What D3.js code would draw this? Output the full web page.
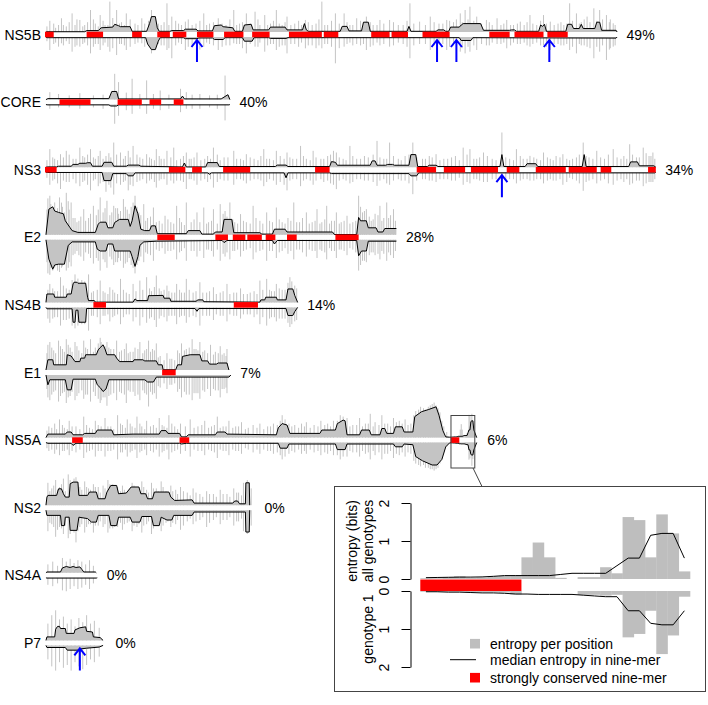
<!DOCTYPE html>
<html><head><meta charset="utf-8">
<script src="https://cdnjs.cloudflare.com/ajax/libs/d3/7.8.5/d3.min.js"></script>
<style>body{margin:0;background:#fff}svg{display:block}text{font-family:"Liberation Sans",Arial,Helvetica,sans-serif;fill:#000}</style>
</head><body><svg id="c" width="708" height="705"></svg>
<script>
// ---------------- DATA ----------------
const proteins = ["NS5B","CORE","NS3","E2","NS4B","E1","NS5A","NS2","NS4A","P7"];
const lengths  = [591,191,631,363,261,192,447,217,54,63];
const percents = ["49%","40%","34%","28%","14%","7%","6%","0%","0%","0%"];

// median entropy in nine-mer, breakpoints [position, bits]; "up" = all genotypes, "down" = genotype 1
const upNS5B = [[1,0],[2,0.02],[41,0.02],[43,0.1],[55,0.1],[58,0.3],[70,0.35],[72,0.55],[76,0.45],[78,0.38],[88,0.38],[90,0.05],[105,0.05],[108,0.6],[110,1.1],[114,1.1],[116,0.3],[118,0.05],[129,0.05],[131,0.1],[143,0.1],[145,0.2],[156,0.2],[158,0.08],[173,0.08],[175,0.45],[182,0.5],[184,0.38],[194,0.3],[196,0.05],[204,0.05],[206,0.5],[213,0.55],[215,0.15],[231,0.15],[233,0.35],[248,0.35],[250,0.15],[266,0.15],[268,0.6],[270,0.15],[272,0.05],[305,0.05],[307,0.4],[312,0.4],[314,0.08],[327,0.08],[329,0.7],[334,0.7],[336,0.05],[374,0.05],[376,0.4],[378,0.05],[404,0.05],[406,0.15],[412,0.15],[414,0.05],[417,0.05],[419,0.35],[428,0.35],[430,0.5],[432,0.6],[450,0.6],[453,0.12],[480,0.12],[482,0.15],[485,0.15],[487,0.05],[510,0.05],[512,0.5],[514,0.4],[516,0.55],[518,0.05],[538,0.05],[540,0.55],[544,0.55],[546,0.25],[552,0.25],[554,0.55],[556,0.25],[568,0.25],[570,0.7],[573,0.7],[575,0.12],[590,0.12],[591,0]];
const downNS5B = [[1,0],[2,0.05],[104,0.05],[106,0.5],[110,0.9],[114,0.9],[117,0.3],[119,0.05],[143,0.05],[145,0.12],[157,0.12],[159,0.07],[173,0.07],[175,0.18],[184,0.18],[186,0.05],[204,0.05],[206,0.3],[214,0.3],[216,0.05],[231,0.05],[233,0.1],[249,0.1],[251,0.05],[428,0.05],[430,0.25],[440,0.25],[442,0.05],[590,0.08],[591,0]];
const upCORE = [[1,0],[3,0.07],[66,0.07],[69,0.58],[74,0.58],[76,0.05],[140,0.05],[142,0.25],[144,0.05],[182,0.05],[189,0.35],[191,0]];
const downCORE = [[1,0],[3,0.02],[66,0.02],[68,0.1],[74,0.1],[76,0.02],[190,0.02],[191,0]];
const upNS3 = [[1,0],[3,0.02],[12,0.02],[14,0.07],[27,0.07],[29,0.2],[34,0.2],[36,0.28],[42,0.28],[44,0.32],[47,0.32],[49,0.07],[59,0.07],[61,0.35],[69,0.35],[71,0.07],[84,0.07],[86,0.15],[97,0.15],[99,0.07],[142,0.02],[144,0.3],[146,0.02],[166,0.02],[168,0.33],[178,0.33],[180,0.05],[238,0.05],[240,0.15],[249,0.15],[251,0.05],[294,0.05],[296,0.4],[300,0.35],[302,0.14],[336,0.14],[338,0.45],[341,0.45],[343,0.14],[352,0.14],[354,0.2],[359,0.2],[361,0.14],[376,0.14],[378,0.9],[383,0.9],[385,0.05],[395,0.05],[397,0.14],[404,0.14],[406,0.05],[470,0.05],[472,0.9],[474,0.05],[496,0.05],[498,0.25],[507,0.25],[509,0.05],[555,0.05],[557,0.9],[559,0.05],[603,0.05],[605,0.38],[612,0.38],[614,0.1],[629,0.1],[631,0]];
const downNS3 = [[1,0],[3,0.02],[59,0.02],[61,0.6],[68,0.6],[70,0.1],[84,0.1],[86,0.26],[91,0.26],[93,0.05],[168,0.05],[170,0.15],[172,0.05],[247,0.05],[249,0.4],[251,0.05],[294,0.05],[296,0.1],[376,0.1],[378,0.26],[384,0.26],[386,0.05],[630,0.05],[631,0]];
const upE2 = [[1,0],[4,1.83],[8,2.0],[10,1.7],[14,1.6],[19,1.5],[21,1.0],[26,0.5],[28,0.3],[34,0.17],[52,0.17],[55,0.76],[57,0.9],[63,0.9],[65,0.5],[70,0.5],[72,0.88],[77,1.1],[86,1.1],[88,0.6],[90,1.0],[93,2.07],[96,1.5],[99,0.4],[103,0.3],[108,0.3],[110,0.64],[114,0.64],[116,0.08],[146,0.08],[148,0.3],[160,0.3],[162,0.05],[174,0.05],[176,0.2],[183,0.2],[185,1.1],[193,1.1],[195,0.15],[222,0.15],[224,0.05],[235,0.05],[237,0.4],[248,0.4],[250,0.2],[297,0.2],[299,0.02],[322,0.02],[324,1.24],[326,1.0],[332,1.0],[334,0.5],[342,0.5],[344,0.2],[349,0.2],[351,0.45],[363,0.45]];
const downE2 = [[1,0],[4,1.38],[8,2.1],[10,1.8],[14,1.74],[20,1.74],[24,0.4],[28,0.15],[52,0.15],[54,0.67],[57,0.8],[63,0.8],[65,0.3],[70,0.3],[72,0.8],[88,0.8],[90,1.2],[93,1.9],[96,1.2],[98,0.4],[102,0.15],[115,0.1],[183,0.05],[185,0.2],[188,0.05],[235,0.05],[237,0.3],[240,0.05],[322,0.05],[324,1.14],[327,0.8],[332,0.8],[334,0.1],[363,0.1]];
const upNS4B = [[1,0],[2,0.6],[9,0.6],[10,0.37],[22,0.37],[23,0.6],[27,0.6],[29,1.32],[30,1.44],[33,1.44],[34,1.37],[42,1.37],[44,0.37],[45,0.13],[51,0.13],[52,0.02],[91,0.02],[93,0.25],[95,0.13],[106,0.13],[107,0.48],[122,0.5],[123,0.3],[129,0.3],[130,0.08],[156,0.08],[158,0.18],[163,0.18],[164,0.05],[222,0.02],[223,0.18],[227,0.18],[228,0.37],[239,0.37],[240,0.18],[249,0.18],[251,0.96],[256,0.96],[258,0.5],[261,0]];
const downNS4B = [[1,0],[2,0.1],[28,0.1],[29,1.06],[31,1.06],[32,0.2],[34,0.2],[35,1.06],[42,1.06],[43,0.08],[155,0.08],[157,0.28],[159,0.08],[249,0.08],[251,0.58],[256,0.58],[258,0.3],[261,0]];
const upE1 = [[1,0],[3,0.73],[8,0.73],[9,0.37],[22,0.37],[23,1.09],[27,1.0],[31,0.6],[36,0.6],[37,0.85],[41,0.85],[42,1.09],[53,1.09],[55,1.44],[57,1.6],[60,1.8],[62,1.5],[64,1.09],[72,1.09],[74,0.85],[77,0.6],[91,0.6],[92,0.73],[101,0.73],[103,0.65],[115,0.65],[117,0.37],[121,0.37],[122,0.02],[135,0.02],[137,0.37],[141,0.37],[142,0.97],[150,1.09],[160,1.09],[162,0.65],[168,0.65],[170,0.42],[177,0.42],[179,0.5],[188,0.5],[190,0]];
const downE1 = [[1,0],[3,0.7],[5,0.34],[21,0.34],[23,1.06],[27,1.06],[29,0.3],[52,0.3],[54,0.7],[57,0.9],[60,1.18],[63,1.0],[66,0.34],[103,0.34],[106,0.5],[112,0.5],[115,0.15],[190,0.15],[192,0]];
const upNS5A = [[1,0],[3,0.25],[21,0.25],[23,0.4],[27,0.4],[29,0.2],[39,0.2],[41,0.3],[52,0.3],[54,0.54],[69,0.54],[71,0.2],[91,0.25],[118,0.25],[120,0.5],[125,0.5],[127,0.3],[139,0.3],[141,0.05],[146,0.05],[148,0.2],[176,0.2],[178,0.4],[186,0.4],[188,0.25],[239,0.2],[241,0.7],[245,1.0],[250,0.9],[253,0.3],[284,0.3],[286,0.54],[300,0.54],[302,1.0],[308,1.25],[310,1.2],[312,0.2],[325,0.2],[327,0.54],[335,0.54],[337,0.2],[346,0.2],[348,0.65],[351,0.65],[353,0.3],[360,0.3],[362,0.77],[369,0.77],[371,0.4],[380,0.4],[382,1.5],[389,1.85],[396,2.0],[404,2.2],[407,1.6],[411,0.5],[414,0.05],[418,0.03]];
const downNS5A = [[1,0],[3,0.05],[27,0.05],[29,0.2],[32,0.05],[139,0.05],[141,0.1],[146,0.05],[241,0.05],[243,0.4],[250,0.4],[252,0.1],[300,0.1],[302,0.5],[310,0.5],[312,0.1],[360,0.1],[362,0.3],[369,0.3],[371,0.1],[380,0.15],[383,1.0],[390,1.3],[400,1.6],[405,1.6],[410,1.2],[414,0.3],[418,0.02]];
const upNS2 = [[1,0],[2,0.58],[3,0.7],[12,0.7],[14,1.17],[17,1.17],[19,0.82],[21,0.58],[25,0.58],[26,1.53],[29,1.65],[34,1.65],[35,0.7],[44,0.7],[46,0.94],[53,0.94],[55,0.46],[62,0.46],[64,0.94],[68,1.41],[74,1.41],[76,0.82],[84,0.87],[89,1.3],[97,1.3],[99,0.82],[104,0.82],[106,0.46],[111,0.46],[113,0.94],[128,0.94],[130,0.58],[134,0.34],[152,0.38],[154,0.15],[194,0.15],[196,0.3],[199,0.3],[201,0.1],[207,0.1],[207.5,1.6],[211,1.6],[211.5,0]];
const downNS2 = [[1,0],[2,0.37],[16,0.37],[17,1.1],[20,1.1],[21,0.5],[25,0.5],[26,1.44],[33,1.44],[35,0.5],[44,0.6],[48,0.85],[53,0.85],[55,0.37],[66,0.37],[68,1.1],[74,1.1],[76,0.5],[88,0.5],[90,0.85],[98,0.85],[100,0.45],[110,0.45],[112,1.1],[118,1.1],[120,0.5],[126,0.7],[131,0.7],[133,0.37],[152,0.37],[154,0.13],[207,0.13],[207.5,1.56],[211,1.56],[211.5,0]];
const upNS4A = [[1,0],[2,0.06],[16,0.06],[18,0.35],[22,0.45],[26,0.38],[29,0.45],[32,0.38],[36,0.42],[38,0.25],[40,0.06],[52,0.06],[53,0]];
const downNS4A = [[1,0],[2,0.02],[53,0.02],[54,0]];
const upP7 = [[1,0],[2,0.25],[10,0.25],[11,0.8],[13,1.0],[15,1.0],[16,0.85],[21,0.85],[22,0.5],[30,0.5],[31,0.75],[36,0.9],[42,0.97],[43,0.65],[49,0.6],[50,0.25],[57,0.2],[60,0]];
const downP7 = [[1,0],[2,0.15],[21,0.15],[23,0.34],[35,0.34],[37,0.25],[43,0.2],[56,0.12],[60,0]];

// strongly conserved nine-mers (runs of positions)
const redNS5B = [[1,9],[44,60],[91,100],[117,129],[133,146],[158,174],[186,205],[215,232],[253,286],[289,303],[338,356],[359,375],[391,418],[460,480],[486,515],[520,540]];
const redCORE = [[16,47],[76,100],[109,120],[134,143]];
const redNS3 = [[1,12],[129,145],[153,162],[185,212],[280,294],[385,404],[413,434],[441,468],[478,490],[508,538],[542,570],[575,585],[624,631]];
const redE2 = [[117,134],[177,189],[195,207],[210,224],[229,238],[251,260],[301,324]];
const redNS4B = [[51,63],[196,220]];
const redE1 = [[122,135]];
const redNS5A = [[29,39],[140,149],[420,428]];

// entropy per position [position, all genotypes bits, genotype 1 bits] - taller bars
const spikesNS5B = [[5,0.8,0.93],[14,0.5,0.69],[17,0.98,0.45],[22,0.4,0.3],[28,1.33,1.05],[36,0.86,0.69],[41,0.5,0.4],[47,1.57,1.17],[52,0.6,0.5],[57,1.21,0.93],[62,0.5,0.4],[67,2.17,1.05],[74,1.57,1.29],[79,0.7,0.5],[84,1.33,0.93],[93,0.6,0.5],[100,0.98,0.45],[110,1.57,1.17],[120,0.5,0.6],[126,2.05,0.93],[131,1.1,1.52],[138,0.6,0.4],[145,0.74,0.93],[152,0.5,0.6],[164,1.33,0.69],[170,0.6,0.5],[179,0.98,0.93],[187,0.5,0.6],[195,1.57,0.45],[201,0.6,0.5],[208,1.33,1.17],[217,1.45,0.69],[222,0.5,0.4],[227,1.21,1.05],[233,0.6,0.5],[239,1.57,0.93],[245,0.5,0.6],[250,1.1,1.17],[258,0.6,0.5],[269,0.86,0.81],[276,0.5,0.6],[286,2.17,0.81],[292,0.5,0.5],[300,1.33,1.88],[309,1.33,0.69],[315,0.5,0.4],[322,0.98,0.5],[332,1.1,0.93],[339,0.5,0.6],[346,0.86,0.6],[356,0.86,0.69],[365,0.5,0.4],[377,2.05,1.52],[387,0.74,0.5],[398,1.1,0.93],[407,0.6,0.5],[415,0.86,0.93],[422,0.7,0.6],[429,1.33,1.05],[434,1.57,1.17],[439,1.81,1.05],[446,1.1,0.93],[456,0.86,0.6],[462,0.5,0.4],[467,0.98,0.5],[477,0.86,0.81],[484,0.5,0.4],[491,0.74,0.5],[501,1.21,0.69],[508,0.5,0.4],[515,1.21,0.6],[522,0.74,0.93],[530,0.6,0.5],[536,0.5,0.6],[542,2.05,0.93],[549,1.33,1.17],[554,0.7,0.6],[560,1.1,0.7],[567,1.69,1.52],[573,1.57,1.05],[580,1.21,1.64],[584,0.9,0.8],[587,0.62,0.69]];
const spikesCORE = [[5,0.53,0.3],[14,0.4,0.2],[25,0.3,0.2],[36,0.46,0.3],[50,0.3,0.2],[60,0.35,0.3],[72,1.84,1.37],[76,1.25,0.8],[84,0.5,0.4],[90,1.49,0.66],[98,0.4,0.3],[105,1.37,0.66],[112,0.4,0.3],[119,0.65,0.4],[128,0.35,0.3],[140,0.77,0.54],[146,0.53,0.3],[152,0.35,0.3],[160,0.4,0.3],[170,0.3,0.2],[178,0.35,0.3],[186,1.72,1.13]];
const spikesNS3 = [[5,1.29,0.9],[10,0.6,0.5],[16,0.93,1.2],[22,1.17,0.7],[29,0.6,0.5],[36,1.4,1.0],[41,0.7,0.6],[47,1.29,1.3],[52,0.6,0.5],[57,1.17,0.8],[63,0.8,1.4],[71,1.76,1.6],[78,1.05,0.9],[86,1.17,1.3],[91,1.52,1.0],[98,0.7,0.6],[105,0.93,0.8],[110,0.6,0.5],[115,1.29,1.1],[120,0.6,0.5],[126,1.17,0.9],[133,1.4,0.8],[140,0.6,0.6],[146,1.05,1.2],[151,0.6,0.5],[157,1.05,0.9],[165,0.6,0.5],[174,1.4,1.1],[185,0.7,0.6],[195,1.17,0.9],[202,0.6,0.5],[208,0.93,0.8],[216,0.6,0.5],[226,1.29,1.0],[232,0.6,0.5],[239,1.17,0.9],[250,1.05,1.3],[256,0.6,0.5],[264,1.52,1.0],[270,0.6,0.5],[277,1.17,0.9],[285,0.6,0.5],[292,0.8,0.6],[298,1.17,0.9],[301,1.05,1.21],[308,0.6,0.5],[315,1.52,0.8],[322,0.6,0.5],[330,0.8,0.6],[343,1.88,0.98],[350,0.6,0.5],[356,1.76,0.9],[365,0.6,0.5],[372,0.8,0.6],[380,1.76,1.57],[390,0.6,0.5],[397,0.8,0.6],[404,0.93,0.7],[412,0.6,0.5],[420,0.7,0.6],[432,1.4,0.9],[439,1.29,0.8],[446,0.6,0.5],[453,1.05,0.7],[462,0.6,0.5],[472,2.48,1.69],[480,0.6,0.5],[487,1.29,0.8],[494,0.6,0.5],[501,0.81,0.6],[508,0.6,0.5],[515,1.05,0.8],[522,0.6,0.5],[528,0.8,0.6],[535,0.93,0.9],[545,0.6,0.5],[556,1.76,1.33],[562,0.7,0.6],[570,1.17,0.8],[578,0.6,0.5],[587,1.29,0.9],[595,0.6,0.5],[604,1.64,0.9],[611,0.7,0.6],[618,1.4,1.0],[624,0.8,0.7],[628,1.05,0.7]];
const spikesE2 = [[3,2.6,2.4],[5,2.79,2.5],[8,2.0,2.2],[10,2.31,2.0],[13,1.9,2.2],[15,2.67,2.3],[18,2.0,1.9],[22,3.0,2.2],[25,1.8,1.6],[27,2.31,1.9],[31,1.2,1.0],[35,1.0,1.1],[40,1.83,1.5],[45,1.2,1.0],[50,2.07,1.7],[53,1.4,1.3],[57,2.67,2.2],[60,1.6,1.4],[64,2.43,2.0],[67,1.4,1.2],[71,2.07,1.8],[75,1.9,1.6],[78,1.7,1.5],[81,2.55,2.0],[85,1.8,1.6],[89,2.0,1.8],[93,2.79,2.4],[97,1.6,1.5],[102,2.19,1.6],[106,1.2,1.0],[112,1.95,1.5],[118,1.0,0.8],[124,1.36,1.0],[130,0.9,0.8],[136,2.07,1.4],[141,0.9,0.8],[146,2.31,1.5],[151,0.9,0.8],[157,1.6,1.2],[160,0.9,0.8],[164,1.95,1.3],[169,0.9,0.7],[174,1.83,1.2],[181,2.19,1.5],[186,1.7,1.2],[191,2.31,1.4],[196,0.9,0.8],[202,1.48,1.2],[208,0.9,0.7],[215,2.07,1.4],[222,1.0,0.8],[229,1.6,1.5],[235,0.9,0.8],[239,1.95,1.3],[245,0.9,0.8],[251,1.2,1.0],[257,2.31,1.4],[263,0.9,0.7],[270,1.6,1.2],[276,0.9,0.8],[281,1.83,1.3],[286,0.9,0.8],[291,2.07,1.4],[296,1.0,0.8],[301,1.6,1.3],[306,0.9,0.7],[312,1.36,1.1],[318,0.9,0.7],[324,2.79,2.2],[328,1.6,1.5],[332,1.83,1.6],[337,1.0,0.9],[341,1.5,1.1],[346,2.07,1.4],[350,1.2,1.0],[353,2.31,1.5],[357,1.4,1.1],[360,1.83,1.3]];
const spikesNS4B = [[5,1.32,1.1],[10,0.8,0.7],[16,1.8,1.3],[22,1.0,0.9],[31,2.0,1.5],[38,1.6,1.2],[45,2.0,1.66],[50,0.8,0.6],[57,1.56,1.2],[62,0.7,0.6],[67,1.08,1.0],[72,0.7,0.6],[78,1.68,1.2],[84,0.7,0.5],[91,1.32,1.0],[98,1.56,1.3],[105,1.8,1.1],[110,0.8,0.7],[115,1.92,1.4],[120,0.8,0.6],[126,1.2,1.0],[131,0.7,0.6],[136,1.32,1.2],[141,0.7,0.6],[146,1.68,1.1],[153,0.7,0.6],[160,1.44,1.3],[167,0.7,0.6],[174,1.08,0.9],[181,0.7,0.6],[188,1.32,1.0],[195,0.7,0.6],[202,1.0,0.8],[209,0.6,0.5],[216,0.8,0.7],[222,1.56,1.2],[229,1.68,1.3],[234,0.8,0.7],[239,1.32,1.0],[245,0.9,0.8],[253,1.8,1.4],[258,1.2,1.0]];
const spikesE1 = [[3,1.8,1.6],[5,2.0,1.8],[9,1.4,1.2],[14,2.1,1.9],[18,1.5,1.3],[22,2.2,2.0],[26,1.6,1.5],[31,2.0,1.8],[35,1.4,1.3],[40,2.1,1.7],[44,1.5,1.4],[47,2.2,1.9],[52,1.6,1.5],[57,2.3,2.0],[60,1.8,1.6],[64,2.0,2.2],[68,1.5,1.4],[74,2.1,1.8],[79,1.4,1.3],[84,1.9,2.0],[88,1.3,1.2],[93,1.6,1.5],[98,2.0,1.8],[103,1.4,1.3],[107,2.1,2.25],[111,1.5,1.4],[115,1.9,1.7],[119,1.0,0.9],[126,1.2,1.0],[131,0.8,0.7],[137,1.4,1.2],[141,1.9,1.6],[146,1.5,1.4],[152,2.2,1.8],[156,1.5,1.3],[160,2.0,1.7],[165,1.4,1.2],[171,1.8,1.5],[176,1.3,1.1],[181,1.7,1.6],[185,1.2,1.0],[188,1.5,1.3]];
const spikesNS5A = [[4,0.8,0.6],[10,1.0,0.8],[15,1.3,0.9],[20,0.7,0.6],[25,1.2,0.9],[32,0.8,0.7],[40,1.5,1.1],[46,0.7,0.6],[52,1.2,1.0],[58,0.8,0.6],[62,1.4,1.0],[68,0.8,0.6],[75,1.6,1.2],[80,0.9,0.7],[85,1.3,1.0],[90,0.8,0.6],[95,1.5,1.1],[100,0.8,0.6],[105,1.2,0.9],[112,0.9,0.7],[118,1.4,1.0],[123,0.8,0.6],[128,1.6,1.2],[134,0.8,0.6],[140,1.0,0.8],[150,1.3,1.0],[158,0.8,0.6],[165,1.2,0.9],[172,0.8,0.6],[178,1.5,1.1],[184,0.8,0.6],[190,1.2,0.9],[197,0.8,0.6],[203,1.1,0.8],[210,0.7,0.5],[215,0.9,0.7],[222,1.0,0.8],[230,0.8,0.6],[236,1.0,0.8],[245,1.6,1.2],[252,1.0,0.8],[258,0.9,0.7],[265,1.0,0.8],[270,1.1,0.8],[278,0.9,0.7],[285,1.2,0.9],[292,1.0,0.8],[298,1.2,0.9],[305,1.6,1.2],[312,1.4,1.0],[318,0.9,0.7],[325,1.4,1.0],[331,1.0,0.8],[336,1.7,1.2],[341,1.1,0.9],[348,1.6,1.2],[354,1.0,0.8],[360,1.4,1.1],[366,1.2,0.9],[372,1.3,1.0],[378,1.0,0.8],[383,1.9,1.5],[388,2.2,1.7],[393,2.0,1.8],[398,2.3,1.9],[402,2.5,2.0],[406,2.1,1.8],[410,1.2,1.0],[415,0.4,0.3]];
const spikesNS2 = [[3,1.6,1.5],[7,1.2,1.0],[11,1.8,1.9],[15,1.3,1.2],[19,1.9,1.7],[24,2.2,2.0],[28,1.6,1.4],[32,2.0,2.3],[36,1.3,1.2],[41,1.7,1.6],[45,1.2,1.0],[50,1.5,1.6],[55,1.3,1.1],[60,1.4,1.2],[65,1.8,1.6],[70,1.5,1.3],[75,1.3,1.2],[80,1.4,1.4],[85,1.0,0.9],[90,1.6,1.5],[95,1.3,1.2],[100,1.7,1.6],[105,1.1,1.0],[110,1.6,1.7],[115,1.2,1.1],[120,1.7,1.5],[125,1.0,0.9],[130,1.4,1.2],[135,1.1,1.0],[140,1.3,1.4],[147,0.9,0.8],[153,1.2,1.0],[160,0.8,0.7],[167,1.0,1.2],[174,0.8,0.7],[181,1.1,1.0],[188,0.8,0.7],[195,1.2,1.1],[200,0.9,0.8],[205,1.6,1.5],[213,1.2,1.1]];
const spikesNS4A = [[3,0.6,0.5],[8,0.8,0.6],[13,0.5,0.4],[18,1.06,0.9],[22,0.8,0.96],[26,1.0,0.8],[30,0.7,0.6],[34,0.9,0.8],[38,0.8,0.7],[42,0.6,0.5],[46,0.9,0.8],[50,0.5,0.4]];
const spikesP7 = [[3,1.2,1.0],[7,1.8,1.5],[11,2.15,1.8],[15,1.5,1.2],[19,1.7,1.6],[23,1.2,1.4],[27,1.5,1.8],[31,1.0,1.2],[35,1.6,1.5],[39,1.3,1.7],[43,1.8,1.4],[47,1.2,1.0],[51,1.4,1.2],[56,0.9,0.8]];

// entropy per position - shorter bars in between
const minorNS5B = [[2,0.4,0.3],[9,0.6,0.5],[11,0.3,0.4],[19,0.5,0.6],[25,0.7,0.5],[31,0.5,0.7],[33,0.9,0.6],[39,0.4,0.5],[44,0.7,0.6],[50,0.9,0.7],[55,0.4,0.5],[60,0.8,0.6],[65,0.5,0.7],[70,1.0,0.8],[77,0.6,0.5],[82,0.5,0.6],[88,0.9,0.7],[96,0.5,0.4],[103,0.6,0.7],[107,0.8,0.6],[113,0.9,0.8],[117,0.6,0.5],[123,0.7,0.6],[128,0.5,0.8],[135,0.8,0.6],[141,0.5,0.5],[148,0.9,0.7],[156,0.6,0.5],[160,0.8,0.9],[167,0.5,0.4],[174,0.7,0.6],[183,0.6,0.7],[191,0.9,0.6],[198,0.5,0.5],[204,0.7,0.8],[212,0.6,0.5],[220,0.9,0.7],[230,0.5,0.6],[236,0.8,0.5],[242,0.6,0.7],[248,0.7,0.6],[254,0.5,0.5],[262,0.8,0.7],[265,0.5,0.4],[272,0.7,0.6],[280,0.6,0.8],[283,0.9,0.6],[289,0.5,0.5],[296,0.8,0.7],[304,0.6,0.8],[312,0.7,0.5],[318,0.5,0.6],[326,0.8,0.6],[329,0.6,0.5],[336,0.7,0.7],[343,0.5,0.4],[350,0.6,0.5],[360,0.7,0.6],[370,0.5,0.5],[374,0.8,0.7],[381,0.6,0.6],[393,0.5,0.5],[402,0.7,0.6],[411,0.6,0.5],[418,0.8,0.7],[425,0.9,0.6],[431,0.7,0.8],[437,0.9,0.7],[443,0.8,0.6],[451,0.6,0.5],[459,0.7,0.6],[471,0.5,0.5],[474,0.6,0.4],[481,0.5,0.6],[488,0.6,0.5],[495,0.5,0.4],[498,0.7,0.6],[504,0.6,0.5],[512,0.8,0.6],[518,0.6,0.7],[526,0.5,0.5],[533,0.7,0.6],[539,0.6,0.5],[545,0.8,0.7],[552,0.6,0.5],[557,0.9,0.6],[563,0.7,0.8],[570,0.8,0.7],[576,0.9,0.6],[583,0.7,0.9],[589,0.5,0.6]];
const minorNS3 = [[2,0.5,0.4],[8,0.7,0.6],[13,0.5,0.8],[19,0.7,0.6],[25,0.9,0.7],[32,0.6,0.8],[39,0.8,0.7],[44,0.9,0.9],[50,0.7,0.6],[55,0.8,1.0],[60,0.6,0.7],[66,1.0,0.9],[68,0.7,1.1],[74,0.9,0.8],[81,0.6,0.7],[83,0.8,0.6],[88,0.7,0.9],[95,0.9,0.7],[101,0.6,0.5],[108,0.7,0.6],[113,0.5,0.7],[118,0.8,0.6],[123,0.6,0.5],[130,0.7,0.6],[136,0.5,0.6],[143,0.8,0.7],[149,0.6,0.5],[154,0.7,0.6],[161,0.5,0.6],[168,0.8,0.7],[171,0.6,0.5],[178,0.9,0.7],[181,0.5,0.5],[189,0.7,0.6],[198,0.6,0.5],[205,0.5,0.6],[212,0.7,0.6],[220,0.5,0.5],[223,0.8,0.6],[229,0.6,0.7],[236,0.5,0.6],[243,0.8,0.7],[247,0.6,0.9],[253,0.7,0.6],[260,0.6,0.5],[267,0.8,0.6],[274,0.5,0.6],[280,0.7,0.6],[288,0.6,0.7],[295,0.9,0.8],[304,0.7,0.6],[311,0.5,0.6],[318,0.8,0.7],[326,0.6,0.5],[334,0.7,0.6],[339,0.9,0.7],[346,0.7,0.6],[353,0.6,0.8],[360,0.8,0.6],[368,0.5,0.6],[376,0.9,0.8],[384,0.7,0.6],[393,0.6,0.5],[400,0.7,0.6],[408,0.5,0.5],[416,0.6,0.5],[424,0.8,0.6],[428,0.5,0.4],[436,0.9,0.7],[443,0.6,0.5],[449,0.7,0.6],[457,0.8,0.7],[466,0.5,0.5],[476,0.7,0.6],[484,0.5,0.5],[491,0.8,0.6],[498,0.6,0.5],[505,0.7,0.6],[512,0.5,0.5],[519,0.7,0.6],[525,0.5,0.6],[532,0.7,0.5],[539,0.6,0.7],[542,0.5,0.4],[549,0.7,0.6],[552,0.9,0.8],[559,0.8,0.7],[566,0.6,0.5],[574,0.7,0.6],[582,0.9,0.8],[591,0.7,0.6],[598,0.8,0.7],[601,0.6,0.5],[607,0.9,0.8],[614,0.7,0.6],[621,1.0,0.8],[626,0.8,0.7],[630,0.6,0.5]];
const minorE2 = [[2,1.8,1.6],[6,2.2,2.0],[11,1.7,1.8],[17,2.3,2.0],[20,1.6,1.5],[24,2.4,2.0],[29,1.2,1.1],[33,0.9,0.8],[37,1.3,1.2],[42,1.0,0.9],[47,1.5,1.3],[55,1.8,1.5],[62,1.9,1.6],[69,1.6,1.4],[73,1.9,1.6],[76,1.5,1.3],[83,2.0,1.7],[87,1.5,1.3],[91,2.3,2.0],[95,2.0,1.8],[99,1.4,1.2],[104,1.0,0.9],[109,1.3,1.1],[115,0.9,0.7],[121,0.8,0.6],[127,1.1,0.8],[133,0.8,0.7],[139,1.2,0.9],[144,0.7,0.6],[154,1.1,0.8],[167,0.8,0.7],[172,1.0,0.8],[178,0.8,0.7],[184,1.5,1.0],[188,1.3,0.9],[194,1.1,0.8],[199,0.8,0.7],[205,1.0,0.8],[212,0.8,0.6],[218,1.2,0.9],[225,0.8,0.7],[232,1.0,0.8],[242,1.1,0.9],[248,0.8,0.6],[254,1.0,0.8],[260,0.9,0.7],[266,1.2,0.9],[273,0.8,0.7],[279,1.0,0.8],[284,0.8,0.7],[289,1.1,0.9],[294,0.8,0.6],[299,1.0,0.8],[304,0.8,0.7],[309,1.0,0.8],[315,0.8,0.6],[321,1.0,0.9],[326,2.0,1.8],[330,1.7,1.5],[335,1.3,1.1],[339,1.1,0.9],[344,1.4,1.0],[348,1.0,0.8],[355,1.2,0.9],[362,1.0,0.8]];
const minorNS4B = [[3,0.9,0.8],[8,1.0,0.8],[13,0.8,0.7],[19,1.2,0.9],[25,0.9,0.8],[28,1.6,1.3],[34,1.7,1.3],[41,1.5,1.2],[48,0.7,0.6],[54,0.9,0.7],[60,0.8,0.6],[65,0.6,0.5],[70,0.9,0.7],[75,0.6,0.5],[81,0.9,0.7],[87,0.6,0.5],[94,0.8,0.7],[101,0.9,0.7],[108,1.0,0.8],[113,1.1,0.9],[118,1.0,0.8],[123,0.9,0.7],[128,0.8,0.6],[134,0.7,0.6],[139,0.9,0.7],[144,0.7,0.6],[149,0.9,0.7],[156,0.8,0.7],[163,0.7,0.6],[170,0.8,0.6],[177,0.6,0.5],[184,0.8,0.6],[191,0.6,0.5],[198,0.7,0.6],[205,0.6,0.5],[212,0.7,0.5],[219,0.6,0.5],[225,0.9,0.7],[232,0.9,0.8],[237,0.8,0.7],[242,1.0,0.8],[248,0.9,0.8],[251,1.4,1.1],[255,1.5,1.2],[260,1.0,0.9]];
const minorE1 = [[2,1.2,1.0],[7,1.6,1.4],[11,1.2,1.1],[16,1.7,1.5],[20,1.3,1.2],[24,1.8,1.6],[28,1.3,1.2],[33,1.7,1.5],[38,1.2,1.1],[42,1.6,1.4],[50,1.3,1.2],[55,1.9,1.7],[58,2.0,1.8],[62,1.7,1.6],[66,1.6,1.5],[71,1.5,1.3],[77,1.3,1.2],[82,1.5,1.4],[86,1.2,1.1],[91,1.3,1.2],[96,1.5,1.4],[101,1.2,1.1],[105,1.5,1.4],[109,1.3,1.2],[113,1.4,1.3],[117,0.9,0.8],[123,0.7,0.6],[129,0.8,0.7],[134,0.7,0.6],[139,1.2,1.0],[144,1.4,1.2],[149,1.6,1.4],[154,1.5,1.3],[158,1.4,1.3],[163,1.3,1.1],[168,1.2,1.0],[174,1.1,1.0],[179,1.2,1.1],[183,1.1,1.0],[187,1.0,0.9]];
const minorNS5A = [[2,0.5,0.4],[7,0.7,0.5],[12,0.6,0.5],[18,0.9,0.6],[23,0.6,0.5],[28,0.8,0.6],[36,0.6,0.5],[43,0.9,0.7],[49,0.6,0.5],[55,0.9,0.6],[65,0.8,0.6],[71,0.6,0.5],[78,1.0,0.7],[83,0.7,0.5],[88,1.0,0.7],[93,0.7,0.5],[98,1.0,0.7],[103,0.6,0.5],[109,0.8,0.6],[115,0.7,0.5],[121,0.9,0.7],[126,0.7,0.5],[131,1.0,0.7],[137,0.6,0.5],[145,0.8,0.6],[154,0.7,0.5],[162,0.9,0.6],[169,0.7,0.5],[175,0.9,0.7],[181,0.7,0.5],[187,0.8,0.6],[194,0.7,0.5],[200,0.8,0.6],[207,0.6,0.4],[219,0.7,0.5],[226,0.6,0.5],[233,0.8,0.6],[240,0.9,0.7],[243,1.2,0.9],[248,1.3,1.0],[255,0.8,0.6],[262,0.7,0.5],[268,0.8,0.6],[274,0.7,0.5],[282,0.8,0.6],[289,0.9,0.7],[295,0.8,0.6],[302,1.2,0.9],[308,1.5,1.0],[315,0.8,0.6],[322,0.9,0.7],[328,0.8,0.6],[334,1.0,0.7],[339,0.8,0.6],[345,0.9,0.7],[351,1.0,0.8],[357,0.8,0.6],[363,1.1,0.8],[369,1.0,0.7],[375,0.9,0.7],[381,1.6,1.3],[386,2.0,1.6],[391,2.1,1.6],[396,2.2,1.8],[400,2.4,1.9],[404,2.3,1.9],[408,1.8,1.5],[412,0.8,0.6]];
const minorNS2 = [[5,1.0,0.9],[9,1.4,1.2],[13,1.1,1.4],[17,1.5,1.3],[21,1.0,1.1],[26,1.8,1.7],[30,1.9,1.6],[34,1.4,1.5],[38,1.1,1.0],[43,1.3,1.2],[47,1.1,1.0],[52,1.3,1.1],[57,0.9,0.8],[62,1.2,1.0],[67,1.5,1.3],[72,1.3,1.2],[78,1.0,0.9],[82,1.1,1.0],[87,1.0,0.8],[92,1.4,1.1],[97,1.2,1.0],[102,1.3,1.1],[107,0.9,0.8],[112,1.2,1.3],[117,1.0,0.9],[122,1.3,1.1],[127,0.9,0.8],[132,1.0,0.9],[137,0.8,0.7],[143,1.0,1.1],[150,0.7,0.6],[156,0.9,0.8],[163,0.6,0.5],[170,0.8,0.9],[177,0.6,0.5],[184,0.8,0.7],[191,0.6,0.5],[198,0.9,0.8],[203,0.7,0.6],[209,1.8,1.7]];

// zoomed region: NS5A positions 420..443
const insetPositions = [420,421,422,423,424,425,426,427,428,429,430,431,432,433,434,435,436,437,438,439,440,441,442,443];
const insetEntropyAll = [0.02,0.02,0.05,0.07,0.03,0.04,0.07,0.08,0.1,0.57,0.96,0.57,0.03,0,0.05,0.05,0.31,0.15,1.63,1.55,0.57,1.7,1.2,0.2];
const insetEntropyG1  = [0.02,0.02,0.02,0.02,0.03,0.03,0.03,0.04,0.09,0,0,0,0,0,0.1,0.1,0.12,0.1,1.22,1.13,0.52,1.66,1.17,0.15];
const insetMedianAll  = [0.035,0.04,0.045,0.05,0.05,0.055,0.07,0.09,0.09,0.09,0.09,0.09,0.12,0.15,0.15,0.15,0.15,0.35,0.55,0.55,1.15,1.2,1.2,0.55];
const insetMedianG1   = [0.02,0.02,0.03,0.03,0.04,0.05,0.05,0.06,0.08,0.08,0.09,0.09,0.09,0.09,0.11,0.13,0.15,0.15,0.52,0.52,0.85,0.89,0.89,0.52];
const insetConserved = [420,428];
const insetTicks = [0,1,2];

// blue arrows [protein, position]
const arrows = [["NS5B",157],["NS5B",405],["NS5B",425],["NS5B",521],["NS3",472],["P7",36]];

// legend
const legendLabels = ["entropy per position","median entropy in nine-mer","strongly conserved nine-mer"];

// ---------------- ASSEMBLY ----------------
const nsA_up = upNS5A.concat(insetPositions.map((p,i)=>[p,insetMedianAll[i]]), [[446,0]]);
const nsA_dn = downNS5A.concat(insetPositions.map((p,i)=>[p,insetMedianG1[i]]), [[446,0]]);
const nsA_sp = spikesNS5A.concat(minorNS5A, insetPositions.map((p,i)=>[p,insetEntropyAll[i],insetEntropyG1[i]]));
const table = {
  NS5B:{up:upNS5B,down:downNS5B,red:redNS5B,spikes:spikesNS5B.concat(minorNS5B)},
  CORE:{up:upCORE,down:downCORE,red:redCORE,spikes:spikesCORE},
  NS3:{up:upNS3,down:downNS3,red:redNS3,spikes:spikesNS3.concat(minorNS3)},
  E2:{up:upE2,down:downE2,red:redE2,spikes:spikesE2.concat(minorE2)},
  NS4B:{up:upNS4B,down:downNS4B,red:redNS4B,spikes:spikesNS4B.concat(minorNS4B)},
  E1:{up:upE1,down:downE1,red:redE1,spikes:spikesE1.concat(minorE1)},
  NS5A:{up:nsA_up,down:nsA_dn,red:redNS5A,spikes:nsA_sp},
  NS2:{up:upNS2,down:downNS2,red:[],spikes:spikesNS2.concat(minorNS2)},
  NS4A:{up:upNS4A,down:downNS4A,red:[],spikes:spikesNS4A},
  P7:{up:upP7,down:downP7,red:[],spikes:spikesP7}
};

// ---------------- DRAW ----------------
const svg = d3.select("#c");
const FONT = 14;
const x = d3.scaleLinear().domain([0, 631]).range([45, 45 + 631*0.968]);
const bits = d3.scaleLinear().domain([0, 1]).range([0, 14]);
const row = d3.scaleLinear().domain([0, 1]).range([34.5, 34.5 + 67.6]);
const GAP = 2.5;
const GREY = "#c4c4c4";

proteins.forEach((name, i) => {
  const d = table[name];
  const yc = row(i), yu = yc - GAP, yd = yc + GAP;
  const g = svg.append("g");
  g.selectAll("line.su").data(d.spikes).join("line")
    .attr("x1", s => x(s[0])).attr("x2", s => x(s[0]))
    .attr("y1", yu).attr("y2", s => yu - bits(s[1]))
    .attr("stroke", GREY).attr("stroke-width", 1);
  g.selectAll("line.sd").data(d.spikes).join("line")
    .attr("x1", s => x(s[0])).attr("x2", s => x(s[0]))
    .attr("y1", yd).attr("y2", s => yd + bits(s[2]))
    .attr("stroke", GREY).attr("stroke-width", 1);
  const aUp = d3.area().x(p => x(p[0])).y0(yu).y1(p => yu - bits(p[1]));
  const aDn = d3.area().x(p => x(p[0])).y0(yd).y1(p => yd + bits(p[1]));
  g.append("path").attr("d", aUp(d.up)).attr("fill", GREY);
  g.append("path").attr("d", aDn(d.down)).attr("fill", GREY);
  const lUp = d3.line().x(p => x(p[0])).y(p => yu - bits(p[1]));
  const lDn = d3.line().x(p => x(p[0])).y(p => yd + bits(p[1]));
  g.append("path").attr("d", lUp(d.up)).attr("fill", "none").attr("stroke", "#000").attr("stroke-width", 1);
  g.append("path").attr("d", lDn(d.down)).attr("fill", "none").attr("stroke", "#000").attr("stroke-width", 1);
  g.selectAll("rect.red").data(d.red).join("rect")
    .attr("x", r => x(r[0] - 1)).attr("width", r => x(r[1]) - x(r[0] - 1))
    .attr("y", yc - 2.8).attr("height", 5.6).attr("fill", "#ff0000");
  g.append("text").attr("x", 41).attr("y", yc).attr("dy", "0.36em")
    .attr("text-anchor", "end").attr("font-size", FONT).text(name);
  g.append("text").attr("x", x(lengths[i]) + 9.5).attr("y", yc).attr("dy", "0.36em")
    .attr("font-size", FONT).text(percents[i]);
});

// blue arrows
arrows.forEach(([name, pos]) => {
  const yc = row(proteins.indexOf(name));
  const ax = x(pos), tip = yc + 5.5, tail = tip + 22;
  const p = d3.path();
  p.moveTo(ax, tail); p.lineTo(ax, tip);
  p.moveTo(ax - 5.5, tip + 7); p.lineTo(ax, tip); p.lineTo(ax + 5.5, tip + 7);
  svg.append("path").attr("d", p.toString()).attr("fill", "none")
    .attr("stroke", "#0000ff").attr("stroke-width", 2);
});

// zoom box on NS5A
svg.append("rect").attr("x", x(419.4)).attr("y", 415.5).attr("width", x(444) - x(419.4)).attr("height", 52.5)
  .attr("fill", "none").attr("stroke", "#444").attr("stroke-width", 1);
svg.append("line").attr("x1", 473).attr("y1", 468).attr("x2", 482).attr("y2", 486.5)
  .attr("stroke", "#444").attr("stroke-width", 1);

// ---------------- INSET ----------------
const inset = svg.append("g");
inset.append("rect").attr("x", 334.5).attr("y", 486.5).attr("width", 371).attr("height", 205)
  .attr("fill", "#fff").attr("stroke", "#444").attr("stroke-width", 1);
const bx = d3.scaleBand().domain(insetPositions).range([420.3, 690]).paddingInner(0).paddingOuter(0);
const yUp = d3.scaleLinear().domain([0, 2]).range([579, 503]);
const yDn = d3.scaleLinear().domain([0, 2]).range([591, 667]);
const bw = bx.bandwidth();
inset.selectAll("rect.bu").data(insetPositions).join("rect")
  .attr("x", p => bx(p)).attr("width", bw + 0.3)
  .attr("y", (p, i) => yUp(insetEntropyAll[i])).attr("height", (p, i) => yUp(0) - yUp(insetEntropyAll[i]))
  .attr("fill", "#bebebe");
inset.selectAll("rect.bd").data(insetPositions).join("rect")
  .attr("x", p => bx(p)).attr("width", bw + 0.3)
  .attr("y", yDn(0)).attr("height", (p, i) => yDn(insetEntropyG1[i]) - yDn(0))
  .attr("fill", "#bebebe");
inset.append("path").attr("d", d3.line().x(p => bx(p[0]) + bw/2).y(p => yUp(p[1]))(insetPositions.map((p,i)=>[p,insetMedianAll[i]])))
  .attr("fill", "none").attr("stroke", "#000").attr("stroke-width", 1);
inset.append("path").attr("d", d3.line().x(p => bx(p[0]) + bw/2).y(p => yDn(p[1]))(insetPositions.map((p,i)=>[p,insetMedianG1[i]])))
  .attr("fill", "none").attr("stroke", "#000").attr("stroke-width", 1);
inset.append("rect").attr("x", bx(insetConserved[0])).attr("width", bx(insetConserved[1]) + bw - bx(insetConserved[0]))
  .attr("y", yUp(0) + 0.5).attr("height", yDn(0) - yUp(0) - 0.5).attr("fill", "#ff0000");

[yUp, yDn].forEach(sc => {
  const ag = inset.append("g").attr("transform", "translate(410.5,0)")
    .call(d3.axisLeft(sc).tickValues(insetTicks).tickSizeInner(9).tickSizeOuter(0).tickFormat(d3.format("d")));
  ag.select(".domain").attr("stroke", "#000");
  ag.selectAll(".tick line").attr("stroke", "#000");
  ag.selectAll(".tick text").attr("dy", null)
    .attr("transform", "rotate(-90)").attr("y", -22).attr("x", 0)
    .attr("text-anchor", "middle").attr("font-size", FONT)
    .attr("font-family", "'Liberation Sans',Arial,Helvetica,sans-serif").attr("fill", "#000");
});
inset.append("text").attr("transform", "translate(352,541) rotate(-90)").attr("text-anchor", "middle")
  .attr("dominant-baseline", "central").attr("font-size", FONT).text("entropy (bits)");
inset.append("text").attr("transform", `translate(368,${(yUp(0)+yUp(2))/2}) rotate(-90)`).attr("text-anchor", "middle")
  .attr("dominant-baseline", "central").attr("font-size", FONT).text("all genotypes");
inset.append("text").attr("transform", `translate(368,${(yDn(0)+yDn(2))/2}) rotate(-90)`).attr("text-anchor", "middle")
  .attr("dominant-baseline", "central").attr("font-size", FONT).text("genotype 1");

const legY = [643.7, 659.7, 677.7];
inset.append("rect").attr("x", 470).attr("y", legY[0] - 4.8).attr("width", 10).attr("height", 9.6).attr("fill", "#bebebe");
inset.append("line").attr("x1", 450).attr("x2", 476).attr("y1", legY[1]).attr("y2", legY[1]).attr("stroke", "#000").attr("stroke-width", 1);
inset.append("rect").attr("x", 470).attr("y", legY[2] - 4.8).attr("width", 10).attr("height", 9.6).attr("fill", "#ff0000");
inset.selectAll("text.leg").data(legendLabels).join("text")
  .attr("x", 490).attr("y", (t, i) => legY[i]).attr("dy", "0.36em").attr("font-size", FONT).text(t => t);
</script></body></html>
